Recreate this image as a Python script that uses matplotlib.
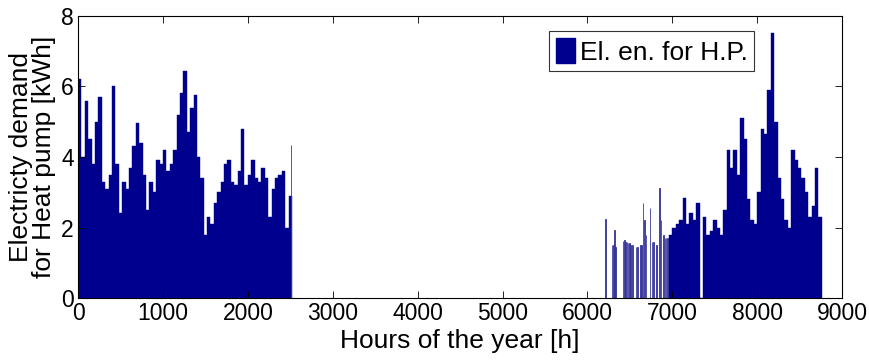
import matplotlib
matplotlib.use("Agg")
import matplotlib.pyplot as plt
from matplotlib.patches import Patch
import numpy as np

# ---- data ----
BIN = 40  # hours per bin
winter_start = 0
winter_values = [6.2, 4.0, 5.6, 4.5, 3.8, 5.0, 5.7, 3.3, 3.1, 3.5,
                 6.0, 3.8, 2.4, 3.3, 3.1, 3.7, 4.3, 4.95, 4.4, 3.5,
                 2.5, 3.3, 3.0, 3.9, 3.8, 4.2, 3.6, 3.8, 4.2, 5.2,
                 5.8, 6.45, 4.7, 5.4, 5.75, 4.0, 3.4, 1.8, 2.3, 2.1,
                 2.7, 3.0, 3.3, 3.8, 3.9, 3.3, 3.2, 3.6, 4.8, 3.2,
                 3.5, 3.9, 3.4, 3.3, 3.7, 3.4, 2.3, 3.1, 3.4, 3.5,
                 3.6, 2.0, 2.9]
winter_spike_hours = [2505]
winter_spike_values = [4.35]

sparse_hours = [6212, 6285, 6300, 6312, 6325, 6415, 6430, 6445, 6460, 6475,
                6490, 6505, 6526, 6570, 6585, 6620, 6635, 6652, 6665, 6684,
                6735, 6755, 6772, 6813, 6844, 6864, 6891, 6910, 6923, 6940]
sparse_values = [2.25, 1.5, 1.5, 1.92, 1.45, 1.63, 1.65, 1.6, 1.6, 1.55,
                 1.55, 1.5, 1.5, 1.45, 1.45, 1.5, 1.5, 2.7, 2.2, 1.8,
                 2.55, 1.6, 1.6, 1.5, 3.13, 2.2, 1.8, 1.7, 1.7, 1.7]

autumn_start = 6960
autumn_values = [1.8, 2.0, 2.1, 2.2, 2.85, 2.1, 2.4, 2.2, 2.7, 0.0,
                 2.3, 1.8, 1.9, 2.2, 2.0, 1.8, 2.5, 4.2, 3.7, 4.2,
                 3.5, 5.1, 4.5, 2.8, 2.2, 2.1, 3.0, 4.8, 4.65, 5.9,
                 7.5, 5.0, 3.4, 2.8, 2.2, 2.0, 4.2, 3.9, 3.7, 3.4,
                 3.0, 2.3, 2.6, 3.7, 2.3]

legend_label = "El. en. for H.P."
xlabel = "Hours of the year [h]"
ylabel = "Electricty demand\nfor Heat pump [kWh]"
xticks = [0, 1000, 2000, 3000, 4000, 5000, 6000, 7000, 8000, 9000]
yticks = [0, 2, 4, 6, 8]

# ---- styling ----
BAR = "#00008F"
EDGE = "#3a3a9a"
plt.rcParams["font.family"] = ["Liberation Sans", "DejaVu Sans"]

fig = plt.figure(figsize=(8.7, 3.6), dpi=100)
ax = fig.add_axes([0.0897, 0.172, 0.8783, 0.784])

wx = winter_start + BIN * np.arange(len(winter_values))
ax.bar(wx, winter_values, width=BIN, align="edge", color=BAR, edgecolor=BAR, linewidth=0.3)
ax.bar(winter_spike_hours, winter_spike_values, width=8, align="edge", color=BAR, edgecolor=EDGE, linewidth=0.6)

ax.bar(sparse_hours, sparse_values, width=7, align="edge", color=BAR, edgecolor=EDGE, linewidth=0.6)

ax_x = autumn_start + BIN * np.arange(len(autumn_values))
ax.bar(ax_x, autumn_values, width=BIN, align="edge", color=BAR, edgecolor=BAR, linewidth=0.3)

ax.set_xlim(0, 9000)
ax.set_ylim(0, 8)
ax.set_xticks(xticks)
ax.set_yticks(yticks)
ax.tick_params(direction="in", top=True, right=True, labelsize=16.5, length=5, width=0.6, pad=3)
for s in ax.spines.values():
    s.set_linewidth(0.8)
ax.set_xlabel(xlabel, fontsize=19, labelpad=3)
ax.set_ylabel(ylabel, fontsize=19, labelpad=4, linespacing=0.95)

leg = ax.legend(handles=[Patch(facecolor=BAR, edgecolor=BAR, label=legend_label)],
                loc="upper right", bbox_to_anchor=(0.885, 0.945), fontsize=19,
                frameon=True, fancybox=False, borderpad=0.25, handlelength=0.7,
                handleheight=1.1, handletextpad=0.2, borderaxespad=0)
leg.get_frame().set_edgecolor("black")
leg.get_frame().set_linewidth(0.8)

fig.savefig("out.png", dpi=100)
